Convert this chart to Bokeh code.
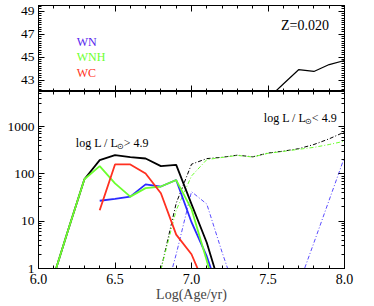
import numpy as np
from bokeh.plotting import figure
from bokeh.layouts import gridplot
from bokeh.models import (Range1d, LinearAxis, LogAxis, Label, FixedTicker, PrintfTickFormatter)
from bokeh.embed import file_html
from bokeh.resources import INLINE

nan = float("nan")

# ---------------- data ----------------
age = [6.0, 6.1, 6.2, 6.3, 6.4, 6.5, 6.6, 6.7, 6.8, 6.9, 7.0,
       7.1, 7.2, 7.3, 7.4, 7.5, 7.6, 7.7, 7.8, 7.9, 8.0]

# log L/Lsun > 4.9 (solid)
all_hi = [nan, 0.7, 7.5, 77, 195, 248, 225, 211, 146, 155, 23,
          3.5, 0.3, nan, nan, nan, nan, nan, nan, nan, nan]
wn_hi = [nan, nan, nan, nan, 27, 29.5, 33, 60, 54, 74, 9.5,
         1.8, 0.2, nan, nan, nan, nan, nan, nan, nan, nan]
wnh_hi = [nan, 0.7, 7.5, 77, 146, 63, 33, 50, 54, 74, 18,
          1.45, 0.1, nan, nan, nan, nan, nan, nan, nan, nan]
wc_hi = [nan, nan, nan, nan, 17, 158, 158, 102, 39, 5.2, 2.0,
         0.35, nan, nan, nan, nan, nan, nan, nan, nan, nan]

# log L/Lsun < 4.9 (dash-dot)
all_lo = [nan, nan, nan, nan, nan, nan, nan, nan, 0.95, 24, 160,
          210, 224, 248, 229, 275, 302, 340, 417, 550, 767]
wnh_lo = [nan, nan, nan, nan, nan, nan, nan, nan, 0.95, 17, 90,
          200, 222, 245, 227, 272, 298, 330, 363, 417, 490]
wn_lo = [nan, nan, nan, nan, nan, nan, nan, nan, 0.13, 2.0, 42,
         23, 2.2, 0.25, nan, nan, nan, 0.45, 3.5, 28, 225]

# upper panel
age_top = [7.5, 7.6, 7.7, 7.8, 7.9, 8.0]
val_top = [41.4, 42.65, 43.9, 43.75, 44.35, 44.7]

x_ticks = [6.0, 6.5, 7.0, 7.5, 8.0]
top_y_ticks = [43, 45, 47, 49]
bot_y_ticks = [1, 10, 100, 1000]

# ---------------- style ----------------
FONT = "Liberation Serif"
BLUE = "#2a2aff"
BLUE_DD = "#5a4cff"
GREEN = "#6cff2e"
RED = "#ff3020"
TXT_BLUE = "#5522ee"

W = 358
LEFT = 38
RIGHT = 14

x_minor = [round(6.0 + 0.1 * i, 1) for i in range(21)]
top_minor = [round(42.0 + 0.2 * i, 1) for i in range(38)]
bot_minor = []
for d in [1, 10, 100, 1000]:
    for k in range(2, 10):
        if d * k < 5500:
            bot_minor.append(d * k)


def style_axis(ax, size="14px"):
    ax.major_tick_in = 6
    ax.major_tick_out = 0
    ax.minor_tick_in = 3
    ax.minor_tick_out = 0
    ax.axis_line_color = "black"
    ax.major_tick_line_color = "black"
    ax.minor_tick_line_color = "black"
    ax.axis_line_width = 1
    ax.major_label_text_font = FONT
    ax.major_label_text_font_size = size
    ax.major_label_text_color = "black"
    ax.major_label_standoff = 4


def mirror(p, side, majors, minors, log=False):
    # tick-only axes (no labels): one carrying the long ticks, one the short ones
    for ticks, length in [(majors, 6), (minors, 3)]:
        t = FixedTicker(ticks=[], minor_ticks=list(ticks))
        a = LogAxis(ticker=t) if log else LinearAxis(ticker=t)
        a.major_tick_in = 0
        a.major_tick_out = 0
        a.minor_tick_in = length
        a.minor_tick_out = 0
        a.minor_tick_line_color = "black"
        a.axis_line_color = "black"
        a.major_label_standoff = 0
        p.add_layout(a, side)


# ---------------- top panel ----------------
top = figure(width=W, height=91, x_range=Range1d(6.0, 8.0), y_range=Range1d(42.0, 49.5),
             output_backend="svg", toolbar_location=None, x_axis_location=None,
             min_border_left=LEFT, min_border_right=RIGHT,
             min_border_top=5, min_border_bottom=0)
top.grid.visible = False
top.outline_line_color = "black"
top.yaxis.ticker = FixedTicker(ticks=top_y_ticks, minor_ticks=top_minor)
top.yaxis.formatter = PrintfTickFormatter(format="%d")
style_axis(top.yaxis[0], "13.5px")
mirror(top, "below", x_ticks, x_minor)
mirror(top, "above", x_ticks, x_minor)
mirror(top, "right", top_y_ticks, top_minor)

top.line(age_top, val_top, line_color="black", line_width=1.2)

for txt, yy, col in [("WN", 46.28, TXT_BLUE), ("WNH", 44.97, GREEN), ("WC", 43.57, RED)]:
    top.add_layout(Label(x=6.25, y=yy, text=txt, text_color=col, text_font=FONT,
                         text_font_size="12px", text_baseline="middle"))
top.add_layout(Label(x=7.585, y=47.77, text="Z=0.020", text_color="black",
                     text_font=FONT, text_font_size="14px", text_baseline="middle"))

# ---------------- bottom panel ----------------
bot = figure(width=W, height=213, x_range=top.x_range, y_range=Range1d(1, 5500),
             y_axis_type="log", output_backend="svg", toolbar_location=None,
             min_border_left=LEFT, min_border_right=RIGHT,
             min_border_top=0, min_border_bottom=0)
bot.grid.visible = False
bot.outline_line_color = "black"
bot.xaxis.ticker = FixedTicker(ticks=x_ticks, minor_ticks=x_minor)
bot.xaxis.formatter = PrintfTickFormatter(format="%.1f")
style_axis(bot.xaxis[0], "14px")
bot.xaxis.major_label_standoff = 5
bot.xaxis.axis_label = "Log(Age/yr)"
bot.xaxis.axis_label_text_font = FONT
bot.xaxis.axis_label_text_font_size = "14px"
bot.xaxis.axis_label_text_font_style = "normal"
bot.xaxis.axis_label_standoff = 0
bot.yaxis.ticker = FixedTicker(ticks=bot_y_ticks, minor_ticks=bot_minor)
bot.yaxis.formatter = PrintfTickFormatter(format="%d")
style_axis(bot.yaxis[0], "13.5px")
mirror(bot, "above", x_ticks, x_minor)
mirror(bot, "right", bot_y_ticks, bot_minor, log=True)

DD = "4 2 1 2"
bot.line(age, all_lo, line_color="black", line_width=1, line_dash=DD)
bot.line(age, wnh_lo, line_color=GREEN, line_width=1, line_dash=DD)
bot.line(age, wn_lo, line_color=BLUE_DD, line_width=1, line_dash=DD)

LW = 1.8
bot.line(age, all_hi, line_color="black", line_width=LW)
bot.line(age, wn_hi, line_color=BLUE, line_width=LW)
bot.line(age, wnh_hi, line_color=GREEN, line_width=LW)
bot.line(age, wc_hi, line_color=RED, line_width=LW)


def lum_label(p, x, y, sign):
    p.add_layout(Label(x=x, y=y, text="log L / L", text_font=FONT, text_font_size="12px",
                       text_color="black", text_baseline="middle"))
    p.add_layout(Label(x=x, y=y, x_offset=41, y_offset=-3, text="\u2299", text_font=FONT,
                       text_font_size="8px", text_color="black", text_baseline="middle"))
    p.add_layout(Label(x=x, y=y, x_offset=48, text=sign + " 4.9", text_font=FONT,
                       text_font_size="12px", text_color="black", text_baseline="middle"))


lum_label(bot, 6.244, 444, ">")
lum_label(bot, 7.473, 1480, "<")

grid = gridplot([[top], [bot]], toolbar_location=None)

open("out.html", "w").write(file_html(grid, INLINE))
